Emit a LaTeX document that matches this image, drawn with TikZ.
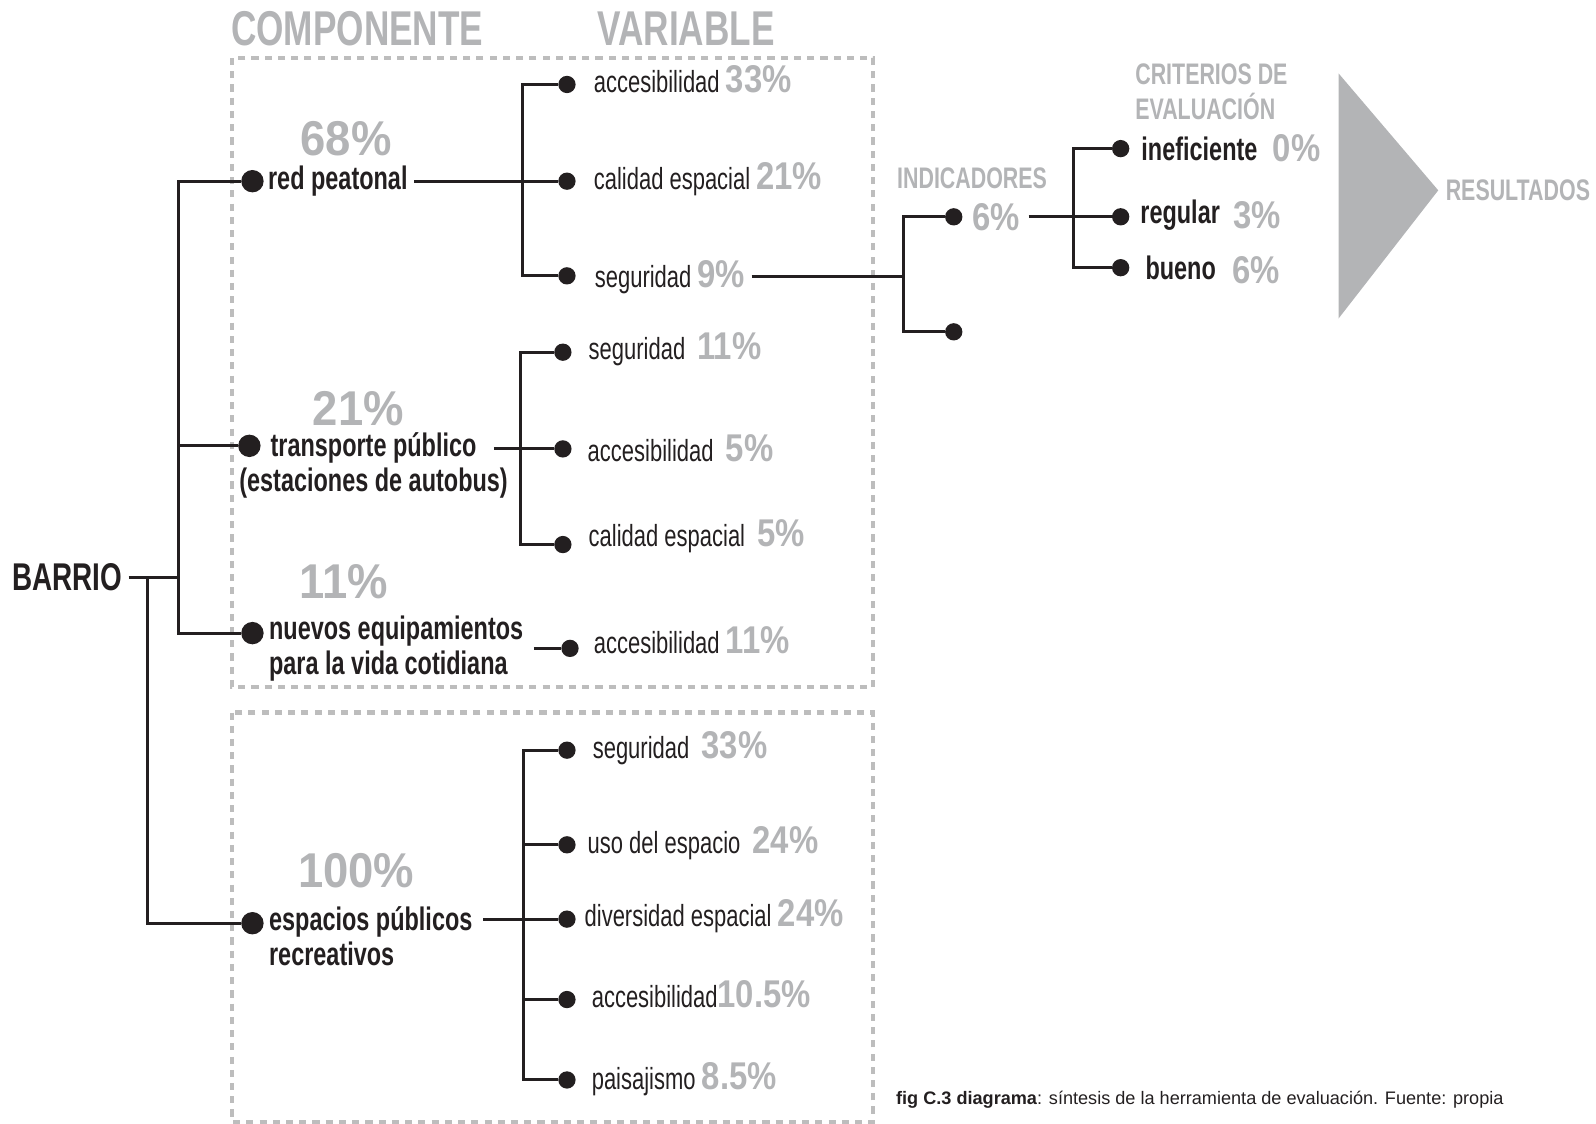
\documentclass[tikz,border=0pt]{standalone}
\usepackage{fontspec}
\setmainfont{Liberation Sans}[FakeStretch=0.72]
\newfontfamily\pctfont{Liberation Sans}[FakeStretch=0.85]
\newfontfamily\wtfont{Liberation Sans}[FakeStretch=0.93]
\newfontfamily\capfont{Liberation Sans}
\usepackage{xcolor}
\definecolor{BRink}{HTML}{231F20}
\definecolor{BRgrey}{HTML}{B3B4B6}
\definecolor{BRdash}{HTML}{BDBDBD}
\usepackage{tikz}
\usetikzlibrary{positioning}
\newcommand{\pc}[1]{{\pctfont\bfseries\fontsize{19}{21}\selectfont\color{BRgrey}#1}}

\begin{document}
\begin{tikzpicture}[x=0.5pt,y=-0.5pt,
  wire/.style={draw=BRink,line width=1.5pt},
  bigdot/.style={circle,fill=BRink,inner sep=0pt,minimum size=11pt},
  dot/.style={circle,fill=BRink,inner sep=0pt,minimum size=8.5pt},
  comp/.style={font=\bfseries\fontsize{16}{17}\selectfont,text=BRink,align=left,anchor=west,inner sep=0pt},
  crit/.style={font=\bfseries\fontsize{16}{18}\selectfont,text=BRink,anchor=west,inner sep=0pt},
  var/.style={font=\fontsize{15}{17}\selectfont,text=BRink,anchor=west,inner sep=0pt},
  head/.style={font=\bfseries\fontsize{24}{26}\selectfont,text=BRgrey,inner sep=0pt},
  subhead/.style={font=\bfseries\fontsize{14.6}{17.5}\selectfont,text=BRgrey,inner sep=0pt,align=left},
  weight/.style={font=\wtfont\bfseries\fontsize{24}{26}\selectfont,text=BRgrey,inner sep=0pt},
  frame/.style={draw=BRdash,line width=2pt,dash pattern=on 3.5pt off 3pt}]
\useasboundingbox (0,0) rectangle (1568,1104);
\draw[frame] (228,57) rectangle (858,675);
\draw[frame] (228,700) rectangle (858,1102);
\fill[BRgrey] (1315,72) -- (1413,187) -- (1315,313) -- cycle;

\node[head] (hComp) at (351,28) {COMPONENTE};
\node[head] (hVar) at (674,28) {VARIABLE};
\node[subhead] (hInd) at (955,175) {INDICADORES};
\node[subhead,anchor=west] (hCrit) at (1115,90) {CRITERIOS DE\\EVALUACIÓN};
\node[subhead,anchor=west] (hRes) at (1420,187) {RESULTADOS};

\node[font=\bfseries\fontsize{19}{21}\selectfont,text=BRink,inner sep=0pt] (barrio) at (66,567) {BARRIO};
\coordinate (j0) at (175,567);
\coordinate (j1) at (145,567);

\node[bigdot] (dRed) at (248,178) {};
\node[bigdot] (dTrans) at (245,438) {};
\node[bigdot] (dNuevos) at (248,622) {};
\node[bigdot] (dEsp) at (248,907) {};
\node[weight] (wRed) at (340,136) {68\%};
\node[weight] (wTrans) at (352,401) {21\%};
\node[weight] (wNuevos) at (338,571) {11\%};
\node[weight] (wEsp) at (350,855) {100\%};
\node[comp] (lRed) at (263,178) {red peatonal};
\node[comp,align=center,anchor=center] (lTrans) at (367,457) {transporte público\\(estaciones de autobus)};
\node[comp] (lNuevos) at (264,637) {nuevos equipamientos\\para la vida cotidiana};
\node[comp] (lEsp) at (264,920) {espacios públicos\\recreativos};

\node[dot] (dAcc1) at (557,83) {};
\node[dot] (dCal1) at (557,178) {};
\node[dot] (dSeg1) at (557,271) {};
\node[dot] (dSeg2) at (553,346) {};
\node[dot] (dAcc2) at (553,441) {};
\node[dot] (dCal2) at (553,535) {};
\node[dot] (dAcc3) at (560,637) {};
\node[dot] (dSeg4) at (557,737) {};
\node[dot] (dUso) at (557,830) {};
\node[dot] (dDiv) at (557,903) {};
\node[dot] (dAcc4) at (557,982) {};
\node[dot] (dPai) at (557,1061) {};
\node[var] (lAcc1) at (583,78) {accesibilidad \pc{33\%}};
\node[var] (lCal1) at (583,176) {calidad espacial \pc{21\%}};
\node[var] (lSeg1) at (584,272) {seguridad \pc{9\%}};
\node[var] (lSeg2) at (578,343) {seguridad \ \pc{11\%}};
\node[var] (lAcc2) at (577,440) {accesibilidad \ \pc{5\%}};
\node[var] (lCal2) at (578,527) {calidad espacial \ \pc{5\%}};
\node[var] (lAcc3) at (583,629) {accesibilidad \pc{11\%}};
\node[var] (lSeg4) at (582,735) {seguridad \ \pc{33\%}};
\node[var] (lUso) at (577,828) {uso del espacio \ \pc{24\%}};
\node[var] (lDiv) at (574,900) {diversidad espacial \pc{24\%}};
\node[var] (lAcc4) at (581,977) {accesibilidad\pc{10.5\%}};
\node[var] (lPai) at (581,1060) {paisajismo \pc{8.5\%}};

\node[dot] (dInd1) at (937,213) {};
\node[dot] (dInd2) at (937,326) {};
\node[var] (lInd) at (955,213) {\pc{6\%}};
\coordinate (jInd) at (888,273);
\node[dot] (dIne) at (1101,146) {};
\node[dot] (dReg) at (1101,213) {};
\node[dot] (dBue) at (1101,263) {};
\node[crit] (lIne) at (1121,146) {ineficiente};
\node[crit] (lReg) at (1120,211) {regular};
\node[crit] (lBue) at (1125,263) {bueno};
\node[var] (pIne) at (1250,146) {\pc{0\%}};
\node[var] (pReg) at (1211,211) {\pc{3\%}};
\node[var] (pBue) at (1210,265) {\pc{6\%}};
\coordinate (jCrit) at (1055,213);

\node[anchor=west,inner sep=0pt,font=\capfont\fontsize{8.9}{10}\selectfont,text=BRink] (caption) at (880,1080)
  {\textbf{fig C.3 diagrama}: síntesis de la herramienta de evaluación. Fuente: propia};

\draw[wire] ([xshift=3pt]barrio.east) -- (barrio.east -| j0);
\draw[wire] (dRed) -| (j0) |- (dNuevos);
\draw[wire] (j0) |- (dTrans);
\draw[wire] (j1) |- (dEsp);

\coordinate (jRed) at (513,178);
\draw[wire] ([xshift=3pt]lRed.east) -- (dCal1);
\draw[wire] (dAcc1) -| (jRed) |- (dSeg1);
\coordinate (jTrans) at (511,441);
\path (dAcc2 -| lTrans.east) coordinate (sTrans);
\draw[wire] ([xshift=-7pt]sTrans) -- (dAcc2);
\draw[wire] (dSeg2) -| (jTrans) |- (dCal2);
\draw[wire] ([xshift=5pt]lNuevos.east) -- (dAcc3);
\coordinate (jEsp) at (514,903);
\path (dDiv -| lEsp.east) coordinate (sEsp);
\draw[wire] ([xshift=5pt]sEsp) -- (dDiv);
\draw[wire] (dSeg4) -| (jEsp) |- (dPai);
\draw[wire] (dUso -| jEsp) -- (dUso);
\draw[wire] (dAcc4 -| jEsp) -- (dAcc4);

\draw[wire] ([xshift=3pt]lSeg1.east) -- (lSeg1.east -| jInd);
\draw[wire] (dInd1) -| (jInd) |- (dInd2);
\draw[wire] ([xshift=4pt]lInd.east) -- (lInd.east -| dReg);
\draw[wire] (dIne) -| (jCrit) |- (dBue);
\end{tikzpicture}
\end{document}
